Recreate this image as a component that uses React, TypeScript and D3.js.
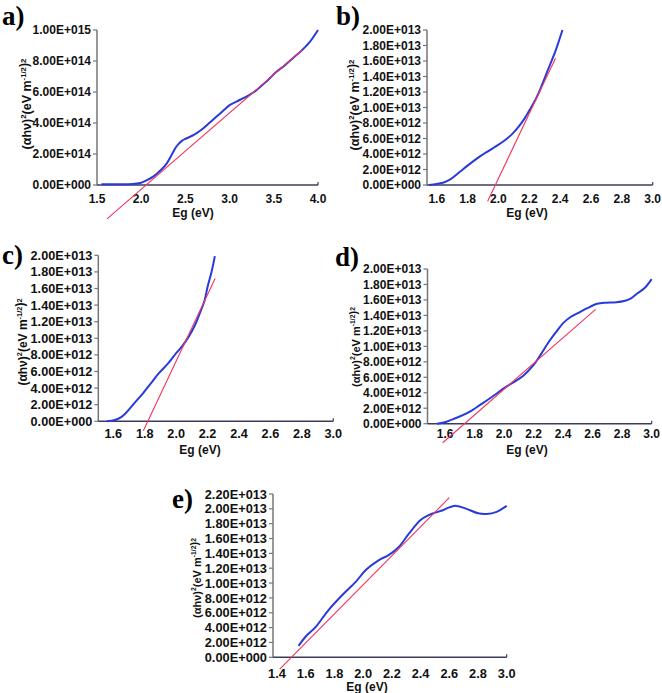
import React from "react";
import * as d3 from "d3";

// ---------- DATA ----------
// Panel a (y in units of 1e15)
const aEg = [1.55, 1.7, 1.9, 1.99, 2.06, 2.14, 2.22, 2.29, 2.35, 2.4, 2.46, 2.51, 2.6, 2.7, 2.78, 2.85, 2.93, 3.0, 3.12, 3.22, 3.3, 3.42, 3.53, 3.62, 3.72, 3.82, 3.91, 4.0];
const aVal = [0.005, 0.005, 0.006, 0.013, 0.03, 0.056, 0.095, 0.14, 0.2, 0.25, 0.285, 0.3, 0.325, 0.365, 0.405, 0.44, 0.48, 0.515, 0.55, 0.58, 0.61, 0.67, 0.73, 0.77, 0.82, 0.87, 0.925, 1.0];
const aFitEg = [1.613, 3.82];
const aFitVal = [-0.219, 0.871];

// Panel b (y in units of 1e13)
const bEg = [1.55, 1.6, 1.65, 1.69, 1.75, 1.8, 1.86, 1.92, 1.98, 2.04, 2.09, 2.13, 2.17, 2.2, 2.24, 2.27, 2.3, 2.33, 2.37, 2.415];
const bVal = [0, 0.013, 0.035, 0.075, 0.17, 0.25, 0.34, 0.42, 0.495, 0.575, 0.66, 0.75, 0.86, 0.96, 1.1, 1.23, 1.38, 1.53, 1.73, 2.0];
const bFitEg = [1.93, 2.37];
const bFitVal = [-0.21, 1.635];

// Panel c (y in units of 1e13)
const cEg = [1.558, 1.61, 1.65, 1.68, 1.73, 1.79, 1.84, 1.89, 1.95, 2.0, 2.04, 2.08, 2.12, 2.15, 2.18, 2.2, 2.225, 2.246];
const cVal = [0, 0.016, 0.05, 0.1, 0.21, 0.34, 0.46, 0.58, 0.7, 0.82, 0.91, 1.02, 1.16, 1.3, 1.45, 1.62, 1.8, 1.99];
const cFitEg = [1.791, 2.248];
const cFitVal = [-0.113, 1.72];

// Panel d (y in units of 1e13)
const dEg = [1.546, 1.61, 1.67, 1.72, 1.78, 1.835, 1.89, 1.95, 2.0, 2.06, 2.13, 2.2, 2.25, 2.3, 2.35, 2.4, 2.45, 2.5, 2.56, 2.63, 2.69, 2.76, 2.82, 2.86, 2.9, 2.95, 3.0];
const dVal = [0, 0.026, 0.07, 0.11, 0.17, 0.24, 0.31, 0.39, 0.46, 0.53, 0.62, 0.76, 0.9, 1.05, 1.18, 1.3, 1.38, 1.43, 1.49, 1.55, 1.565, 1.57, 1.59, 1.62, 1.68, 1.75, 1.87];
const dFitEg = [1.584, 2.62];
const dFitVal = [-0.246, 1.479];

// Panel e (y in units of 1e13)
const eEg = [1.55, 1.6, 1.67, 1.76, 1.855, 1.95, 2.02, 2.11, 2.18, 2.25, 2.32, 2.4, 2.45, 2.49, 2.56, 2.6, 2.65, 2.72, 2.8, 2.86, 2.93, 3.0];
const eVal = [0.153, 0.28, 0.41, 0.64, 0.84, 1.02, 1.18, 1.31, 1.38, 1.49, 1.67, 1.85, 1.91, 1.94, 1.985, 2.02, 2.04, 2.0, 1.94, 1.93, 1.96, 2.04];
const eFitEg = [1.419, 2.6];
const eFitVal = [-0.16, 2.15];

// Tick values and labels
const aXTicks = [1.5, 2.0, 2.5, 3.0, 3.5, 4.0];
const aYTicks = [0, 0.2, 0.4, 0.6, 0.8, 1.0];
const aYLabels = ["0.00E+000", "2.00E+014", "4.00E+014", "6.00E+014", "8.00E+014", "1.00E+015"];

const xTicks16 = [1.6, 1.8, 2.0, 2.2, 2.4, 2.6, 2.8, 3.0];
const xTicks14 = [1.4, 1.6, 1.8, 2.0, 2.2, 2.4, 2.6, 2.8, 3.0];
const yTicks20 = [0, 0.2, 0.4, 0.6, 0.8, 1.0, 1.2, 1.4, 1.6, 1.8, 2.0];
const yLabels20 = ["0.00E+000", "2.00E+012", "4.00E+012", "6.00E+012", "8.00E+012", "1.00E+013", "1.20E+013", "1.40E+013", "1.60E+013", "1.80E+013", "2.00E+013"];
const yTicks22 = [0, 0.2, 0.4, 0.6, 0.8, 1.0, 1.2, 1.4, 1.6, 1.8, 2.0, 2.2];
const yLabels22 = [...yLabels20, "2.20E+013"];

const panelLetters = ["a)", "b)", "c)", "d)", "e)"];
const xTitle = "Eg (eV)";

const BLUE = "#2a3ad8";
const RED = "#f2355e";
const SANS = "'Liberation Sans', Arial, sans-serif";

type PanelProps = {
  letter: string;
  eg: number[];
  val: number[];
  fitEg: number[];
  fitVal: number[];
  xDomain: [number, number];
  xRange: [number, number];
  yDomain: [number, number];
  yRange: [number, number];
  xTicks: number[];
  xFmt: (v: number) => string;
  yTicks: number[];
  yLabels: string[];
  fs: number;
  yfs: number;
  xLabelY: number;
  xTitleX: number;
  xTitleY: number;
  yTitleX: number;
  yTitleY: number;
  letterX: number;
  letterY: number;
};

function Panel(p: PanelProps) {
  const x = d3.scaleLinear().domain(p.xDomain).range(p.xRange);
  const y = d3.scaleLinear().domain(p.yDomain).range(p.yRange);
  const idx = d3.range(p.eg.length);
  const line = d3
    .line<number>()
    .x((i) => x(p.eg[i]))
    .y((i) => y(p.val[i]))
    .curve(d3.curveCatmullRom.alpha(0.5));
  const x0 = p.xRange[0];
  const x1 = p.xRange[1];
  const yb = p.yRange[0];
  const yt = p.yRange[1];
  const sup = p.yfs * 0.62;
  return (
    <g>
      <text x={p.letterX} y={p.letterY} fontFamily="'Liberation Serif', 'Times New Roman', serif" fontWeight="bold" fontSize={27}>
        {p.letter}
      </text>
      {/* y axis */}
      <line x1={x0} x2={x0} y1={yb} y2={yt} stroke="#767676" strokeWidth={1.5} />
      {p.yTicks.map((t, i) => (
        <g key={"yt" + i}>
          <line x1={x0 - 4} x2={x0} y1={y(t)} y2={y(t)} stroke="#767676" strokeWidth={1.2} />
          <text x={x0 - 6} y={y(t)} dy="0.36em" textAnchor="end" fontFamily={SANS} fontWeight="bold" fontSize={p.fs} fill="#111">
            {p.yLabels[i]}
          </text>
        </g>
      ))}
      {/* x axis */}
      <line x1={x0} x2={x1} y1={yb} y2={yb} stroke="#3c3c5a" strokeWidth={1.5} />
      <line x1={x1} x2={x1} y1={yb} y2={yb - 3} stroke="#3c3c5a" strokeWidth={1.2} />
      {p.xTicks.map((t, i) => (
        <text key={"xt" + i} x={x(t)} y={p.xLabelY} textAnchor="middle" fontFamily={SANS} fontWeight="bold" fontSize={p.fs} fill="#111">
          {p.xFmt(t)}
        </text>
      ))}
      <text x={p.xTitleX} y={p.xTitleY} textAnchor="middle" fontFamily={SANS} fontWeight="bold" fontSize={12} fill="#111">
        {xTitle}
      </text>
      <text
        transform={`translate(${p.yTitleX},${p.yTitleY}) rotate(-90)`}
        textAnchor="middle"
        fontFamily={SANS}
        fontWeight="bold"
        fontSize={p.yfs}
        fill="#111"
      >
        (αhν)<tspan dy={-p.yfs * 0.42} fontSize={sup}>2</tspan>
        <tspan dy={p.yfs * 0.42}>(eV m</tspan>
        <tspan dy={-p.yfs * 0.42} fontSize={sup}>-1/2</tspan>
        <tspan dy={p.yfs * 0.15}>)</tspan>
        <tspan dy={-p.yfs * 0.15} fontSize={sup}>2</tspan>
      </text>
      {/* data */}
      <path d={line(idx) || ""} fill="none" stroke={BLUE} strokeWidth={2} />
      <line x1={x(p.fitEg[0])} y1={y(p.fitVal[0])} x2={x(p.fitEg[1])} y2={y(p.fitVal[1])} stroke={RED} strokeWidth={1.1} />
    </g>
  );
}

const f1 = (v: number) => v.toFixed(1);

export default function App() {
  return (
    <svg width={662} height={693} style={{ position: "absolute", left: 0, top: 0, background: "#fff" }}>
      <rect width={662} height={693} fill="#fff" />
      <Panel
        letter={panelLetters[0]}
        eg={aEg}
        val={aVal}
        fitEg={aFitEg}
        fitVal={aFitVal}
        xDomain={[1.5, 4.0]}
        xRange={[97, 318]}
        yDomain={[0, 1.0]}
        yRange={[185, 30]}
        xTicks={aXTicks}
        xFmt={f1}
        yTicks={aYTicks}
        yLabels={aYLabels}
        fs={12}
        yfs={12.5}
        xLabelY={203}
        xTitleX={193}
        xTitleY={217}
        yTitleX={31}
        yTitleY={104}
        letterX={2}
        letterY={25}
      />
      <Panel
        letter={panelLetters[1]}
        eg={bEg}
        val={bVal}
        fitEg={bFitEg}
        fitVal={bFitVal}
        xDomain={[1.537, 3.0]}
        xRange={[427, 652.7]}
        yDomain={[0, 2.0]}
        yRange={[185, 30]}
        xTicks={xTicks16}
        xFmt={f1}
        yTicks={yTicks20}
        yLabels={yLabels20}
        fs={12}
        yfs={12.5}
        xLabelY={203}
        xTitleX={527}
        xTitleY={217}
        yTitleX={359}
        yTitleY={105}
        letterX={336}
        letterY={25}
      />
      <Panel
        letter={panelLetters[2]}
        eg={cEg}
        val={cVal}
        fitEg={cFitEg}
        fitVal={cFitVal}
        xDomain={[1.5045, 3.0]}
        xRange={[98.3, 333.3]}
        yDomain={[0, 2.0]}
        yRange={[421.3, 255.3]}
        xTicks={xTicks16}
        xFmt={f1}
        yTicks={yTicks20}
        yLabels={yLabels20}
        fs={12.7}
        yfs={12}
        xLabelY={438}
        xTitleX={200}
        xTitleY={454}
        yTitleX={27}
        yTitleY={342}
        letterX={2}
        letterY={264}
      />
      <Panel
        letter={panelLetters[3]}
        eg={dEg}
        val={dVal}
        fitEg={dFitEg}
        fitVal={dFitVal}
        xDomain={[1.481, 3.0]}
        xRange={[427.5, 651.7]}
        yDomain={[0, 2.0]}
        yRange={[423.7, 269]}
        xTicks={xTicks16}
        xFmt={f1}
        yTicks={yTicks20}
        yLabels={yLabels20}
        fs={12}
        yfs={11}
        xLabelY={438}
        xTitleX={527}
        xTitleY={454}
        yTitleX={360}
        yTitleY={347}
        letterX={335}
        letterY={266}
      />
      <Panel
        letter={panelLetters[4]}
        eg={eEg}
        val={eVal}
        fitEg={eFitEg}
        fitVal={eFitVal}
        xDomain={[1.372, 3.0]}
        xRange={[273, 506.7]}
        yDomain={[0, 2.2]}
        yRange={[657.3, 494]}
        xTicks={xTicks14}
        xFmt={f1}
        yTicks={yTicks22}
        yLabels={yLabels22}
        fs={12.8}
        yfs={11}
        xLabelY={678}
        xTitleX={367}
        xTitleY={691}
        yTitleX={201}
        yTitleY={578}
        letterX={172}
        letterY={508}
      />
    </svg>
  );
}
